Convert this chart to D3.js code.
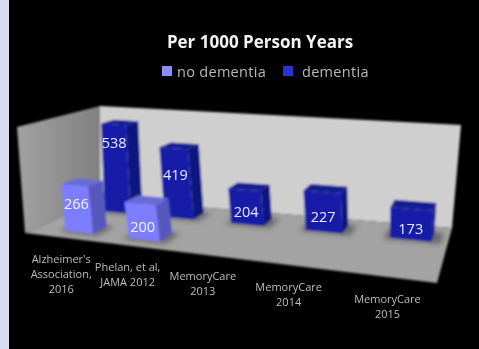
<!DOCTYPE html>
<html><head><meta charset="utf-8">
<script src="https://cdn.jsdelivr.net/npm/d3@7"></script>
<style>html,body{margin:0;padding:0;background:#000}svg{display:block}</style>
</head><body><script>
const title = "Per 1000 Person Years";
const categories = [["Alzheimer's","Association,","2016"],["Phelan, et al,","JAMA 2012"],["MemoryCare","2013"],["MemoryCare","2014"],["MemoryCare","2015"]];
const noDementia = [266,200,null,null,null];
const dementia = [538,419,204,227,173];
const seriesNames = ["no dementia","dementia"];
const W=479,H=349;
const svg=d3.select("body").append("svg").attr("width",W).attr("height",H);
const defs=svg.append("defs");
defs.append("filter").attr("id","soft").attr("x","-5%").attr("y","-5%").attr("width","110%").attr("height","110%").append("feGaussianBlur").attr("stdDeviation",0.8);
defs.append("filter").attr("id","txt").attr("x","-10%").attr("y","-10%").attr("width","120%").attr("height","120%").append("feGaussianBlur").attr("stdDeviation",0.7);
defs.append("filter").attr("id","val").attr("x","-10%").attr("y","-10%").attr("width","120%").attr("height","120%").append("feGaussianBlur").attr("stdDeviation",0.45);
defs.append("filter").attr("id","shadow").attr("x","-30%").attr("y","-30%").attr("width","160%").attr("height","160%").append("feGaussianBlur").attr("stdDeviation",2.5);
const lg=defs.append("linearGradient").attr("id","lw").attr("x1",0).attr("x2",1).attr("y1",0).attr("y2",0);
lg.append("stop").attr("offset",0).attr("stop-color","#a2a2a2");lg.append("stop").attr("offset",1).attr("stop-color","#808080");

function homography(p){
  const [[x0,y0],[x1,y1],[x2,y2],[x3,y3]]=p;
  const dx1=x1-x2,dx2=x3-x2,sx=x0-x1+x2-x3,dy1=y1-y2,dy2=y3-y2,sy=y0-y1+y2-y3;
  const det=dx1*dy2-dx2*dy1,g=(sx*dy2-dx2*sy)/det,h=(dx1*sy-sx*dy1)/det;
  const a=x1-x0+g*x1,b=x3-x0+h*x3,d=y1-y0+g*y1,e=y3-y0+h*y3;
  return (u,v)=>{const w=g*u+h*v+1;return [(a*u+b*v+x0)/w,(d*u+e*v+y0)/w];};
}
const floorQuad=[[25,233],[437,283],[452,228],[100,199]];
const topQuad=[[17,127],[449,166],[461,125],[100,106]];
const F=homography(floorQuad),T=homography(topQuad);
const hScale=d3.scaleLinear().domain([0,600]).range([0,1]);
const uScale=d3.scaleBand().domain(d3.range(categories.length)).range([0.025,1.035]).paddingInner(0.55).paddingOuter(0.35);
const vScale=d3.scaleBand().domain(["no dementia","dementia"]).range([0,1]).paddingInner(0.66).paddingOuter(0.27);
const labelLift=d3.scaleLinear().domain([227,266,419,538]).range([0.36,0.6,0.62,0.79]).clamp(true);
const P=(u,v,val)=>{const a=F(u,v),b=T(u,v),t=hScale(val);return [a[0]+(b[0]-a[0])*t,a[1]+(b[1]-a[1])*t];};
const line=d3.line().curve(d3.curveLinearClosed);

svg.append("rect").attr("width",W).attr("height",H).attr("fill","#000");
svg.append("rect").attr("width",9).attr("height",H).attr("fill","#d9dbf1");

const g=svg.append("g").attr("filter","url(#soft)");
g.append("path").attr("d",line([P(0,1,600),P(1,1,600),P(1,1,0),P(0,1,0)])).attr("fill","#cfcfcf");
g.append("path").attr("d",line([P(0,0,600),P(0,1,600),P(0,1,0),P(0,0,0)])).attr("fill","url(#lw)");
g.append("path").attr("d",line([P(0,0,0),P(1,0,0),P(1,1,0),P(0,1,0)])).attr("fill","#a3a3a3");

const palettes={"no dementia":{front:"#7c7eff",side:"#5759bd",top:"#696bd6",text:"#f4f4ff"},
                "dementia":{front:"#161fa8",side:"#0e1480",top:"#121a92",text:"#e6e9ff"}};
const rows=[["dementia",dementia],["no dementia",noDementia]];
const vg=svg.append("g");
rows.forEach(([name,vals])=>{
  const c=palettes[name];
  const v0=vScale(name),v1=v0+vScale.bandwidth();
  vals.forEach((val,i)=>{
    if(val==null)return;
    const u0=uScale(i),u1=u0+uScale.bandwidth();
    g.append("path").attr("filter","url(#shadow)").attr("fill","#555").attr("opacity",0.75)
      .attr("d",line([P(u0-0.012,v0-0.03,0),P(u1+0.02,v0-0.03,0),P(u1+0.02,v1+0.02,0),P(u0-0.012,v1+0.02,0)]));
    g.append("path").attr("fill",c.side).attr("d",line([P(u1,v0,0),P(u1,v1,0),P(u1,v1,val),P(u1,v0,val)]));
    g.append("path").attr("fill",c.top).attr("d",line([P(u0,v0,val),P(u1,v0,val),P(u1,v1,val),P(u0,v1,val)]));
    g.append("path").attr("fill",c.front).attr("d",line([P(u0,v0,0),P(u1,v0,0),P(u1,v0,val),P(u0,v0,val)]));
    const m=P((u0+u1)/2,v0,val*labelLift(val));
    vg.append("text").attr("filter","url(#val)").attr("x",m[0]).attr("y",m[1]).attr("dy","0.35em").attr("text-anchor","middle")
      .attr("font-family","'Open Sans',sans-serif").attr("font-size",14.5).attr("fill",c.text).text(val);
  });
});

const tg=svg.append("g").attr("filter","url(#txt)").attr("font-family","'Open Sans',sans-serif");
tg.append("text").attr("x",260).attr("y",48).attr("text-anchor","middle").attr("font-size",17).attr("font-weight",700).attr("fill","#f2f2f2").text(title);
const lx=d3.scalePoint().domain(seriesNames).range([162,283]);
seriesNames.forEach(n=>{
  tg.append("rect").attr("x",lx(n)).attr("y",66).attr("width",10).attr("height",10).attr("fill",n==="dementia"?"#2a32d0":"#8a8cff");
  tg.append("text").attr("x",lx(n)+(n==="dementia"?19:15)).attr("y",77).attr("font-size",14.5).attr("letter-spacing",0.3).attr("fill","#b8b8b8").text(n);
});
categories.forEach((lines,i)=>{
  const u=uScale(i)+uScale.bandwidth()/2, base=P(u,0,0);
  const t=tg.append("text").attr("text-anchor","middle").attr("font-size",11).attr("fill","#bdbdbd");
  lines.forEach((s,k)=>t.append("tspan").attr("x",base[0]-6).attr("y",base[1]+25+k*15).text(s));
});
</script></body></html>
